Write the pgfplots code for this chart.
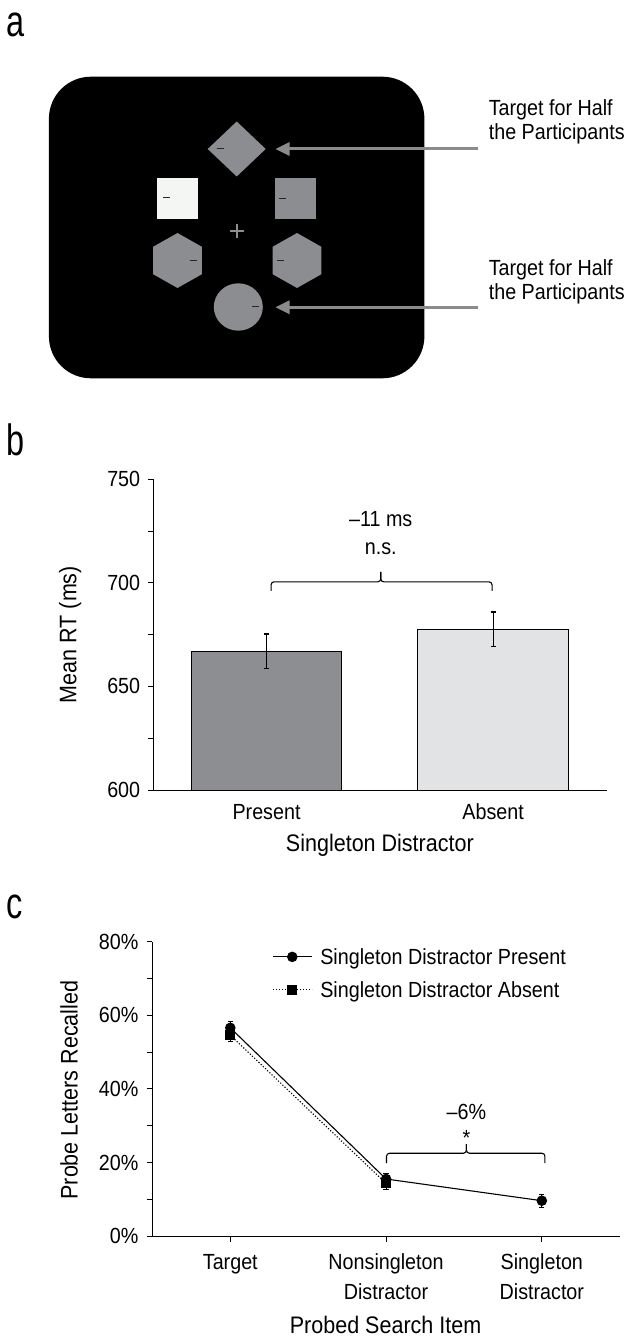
\documentclass[border=0pt]{standalone}
\usepackage{fontspec}
\setmainfont{Liberation Sans}[FakeStretch=0.9]
\newfontfamily\panelfont{Liberation Sans}[FakeStretch=0.74]
\usepackage{pgfplots}
\pgfplotsset{compat=1.18}
\definecolor{bargray}{HTML}{8D8E91}
\definecolor{barlight}{HTML}{E2E3E5}
\definecolor{shapegray}{HTML}{8C8D90}
\definecolor{shapewhite}{HTML}{F4F6F4}
\definecolor{arrowgray}{HTML}{8B8B8D}
\newcommand{\tickfont}{\fontsize{22}{26}\selectfont}
\newcommand{\labfont}{\fontsize{24}{28}\selectfont}
\begin{document}
\begin{tikzpicture}[x=1bp,y=1bp]
\useasboundingbox (0,0) rectangle (629,-1340);
% ---------------- panel a ----------------
\node[anchor=base west, inner sep=0, font=\panelfont\fontsize{44}{44}\selectfont] at (6,-37) {a};
\fill[black, rounded corners=42bp] (48.9,-76.7) rectangle (424.4,-378.3);
% diamond
\fill[shapegray] (207.7,-149) -- (236.7,-121.5) -- (265.7,-149) -- (236.7,-176.5) -- cycle;
% squares
\fill[shapewhite] (157.2,-178) rectangle (198.2,-219);
\fill[shapegray] (274.8,-178) rectangle (315.7,-219);
% hexagons
\fill[shapegray] (177.5,-233) -- (153.2,-246.75) -- (153.2,-274.25) -- (177.5,-288) -- (201.8,-274.25) -- (201.8,-246.75) -- cycle;
\fill[shapegray] (297,-233) -- (272.7,-246.75) -- (272.7,-274.25) -- (297,-288) -- (321.3,-274.25) -- (321.3,-246.75) -- cycle;
% circle
\fill[shapegray] (238.3,-307) ellipse [x radius=24.5, y radius=23.7];
% fixation cross
\draw[shapegray, line width=1.2bp] (230,-231) -- (244,-231) (237,-224) -- (237,-238);
% little dashes
\begin{scope}[line width=1bp, black!85]
\draw (216.6,-149) -- (223.8,-149);
\draw (162.9,-197.3) -- (170.1,-197.3);
\draw (278.8,-199) -- (286,-199);
\draw (189.7,-260.3) -- (196.9,-260.3);
\draw (277.2,-260.3) -- (284.4,-260.3);
\draw (251.5,-306.3) -- (258.7,-306.3);
\end{scope}
% arrows
\draw[arrowgray, line width=3bp] (478,-149) -- (288.6,-149);
\fill[arrowgray] (275.6,-149) -- (289.6,-142) -- (289.6,-156) -- cycle;
\draw[arrowgray, line width=3bp] (478,-307.3) -- (288.6,-307.3);
\fill[arrowgray] (275.6,-307.3) -- (289.6,-300.3) -- (289.6,-314.3) -- cycle;
\node[anchor=base west, inner sep=0, align=left, font=\fontsize{22}{25}\selectfont] at (488.6,-140) {Target for Half\\the Participants};
\node[anchor=base west, inner sep=0, align=left, font=\fontsize{22}{25}\selectfont] at (488.6,-300) {Target for Half\\the Participants};
% ---------------- panel b ----------------
\node[anchor=base west, inner sep=0, font=\panelfont\fontsize{44}{44}\selectfont] at (6,-455) {b};
\begin{axis}[
  at={(153.2bp,-790bp)}, anchor=south west,
  scale only axis, width=453.3bp, height=310.7bp,
  xmin=-0.5, xmax=1.5, ymin=600, ymax=750,
  axis x line=bottom, axis y line=left,
  axis line style={-, line width=1bp, black},
  xtick={0,1}, xticklabels={Present,Absent},
  x tick style={draw=none},
  xticklabel style={yshift=-5bp},
  yticklabel style={xshift=-4bp},
  ytick={600,650,700,750}, minor y tick num=1,
  tick align=outside, major tick length=5.5bp, minor tick length=5.5bp,
  y tick style={line width=1bp, black},
  tick label style={font=\tickfont},
  /pgf/number format/assume math mode=true,
  xlabel={Singleton Distractor}, ylabel={Mean RT (ms)},
  label style={font=\labfont},
  xlabel style={at={(axis description cs:0.5,-0.177)}, anchor=center},
  ylabel style={at={(axis description cs:-0.1831,0.5)}, anchor=center},
]
\addplot[ybar, bar width=0.664, bar shift=0pt, fill=bargray, draw=black, line width=1bp,
  error bars/.cd, y dir=both, y explicit,
  error bar style={line width=1.2bp, black},
  error mark options={rotate=90, mark size=2.6bp, line width=1.2bp, black}]
  coordinates {(0,667) +- (0,8.3)};
\addplot[ybar, bar width=0.664, bar shift=0pt, fill=barlight, draw=black, line width=1bp,
  error bars/.cd, y dir=both, y explicit,
  error bar style={line width=1.2bp, black},
  error mark options={rotate=90, mark size=2.6bp, line width=1.2bp, black}]
  coordinates {(1,677.5) +- (0,8.4)};
\draw[line width=1.1bp, rounded corners=3bp] (axis cs:0.02,696.1) -- (axis cs:0.02,700.5) -- (axis cs:0.504,700.5) -- (axis cs:0.504,705.3);
\draw[line width=1.1bp, rounded corners=3bp] (axis cs:0.995,696.1) -- (axis cs:0.995,700.5) -- (axis cs:0.504,700.5) -- (axis cs:0.504,705.3);
\node[font=\tickfont, inner sep=0] at (axis cs:0.504,730.7) {–11 ms};
\node[font=\tickfont, inner sep=0] at (axis cs:0.504,716.7) {n.s.};
\end{axis}
% ---------------- panel c ----------------
\node[anchor=base west, inner sep=0, font=\panelfont\fontsize{44}{44}\selectfont] at (6,-918) {c};
\begin{axis}[
  at={(152.4bp,-1236bp)}, anchor=south west,
  scale only axis, width=467.3bp, height=294.3bp,
  xmin=-0.5, xmax=2.5, ymin=0, ymax=80,
  axis x line=bottom, axis y line=left,
  axis line style={-, line width=1bp, black},
  xtick={0,1,2},
  xticklabels={Target,{Nonsingleton\\Distractor},{Singleton\\Distractor}},
  xticklabel style={align=center, font=\fontsize{22}{30}\selectfont, yshift=-9bp},
  yticklabel style={xshift=-5bp},
  ytick={0,20,40,60,80}, minor y tick num=1,
  yticklabel={\pgfmathprintnumber{\tick}\%},
  tick align=outside, major tick length=5.5bp, minor tick length=5.5bp,
  tick style={line width=1bp, black},
  tick label style={font=\tickfont},
  /pgf/number format/assume math mode=true,
  xlabel={Probed Search Item}, ylabel={Probe Letters Recalled},
  label style={font=\labfont},
  xlabel style={at={(axis description cs:0.499,-0.3024)}, anchor=center},
  ylabel style={at={(axis description cs:-0.1785,0.496)}, anchor=center},
  legend style={at={(axis description cs:0.256,0.976)}, anchor=north west,
    draw=none, fill=none, inner sep=0pt, row sep=17bp, column sep=8bp,
    font=\tickfont, nodes={inner sep=0pt, text height=15.8bp, text depth=0pt}},
  legend cell align=left,
  legend image code/.code={\draw[mark repeat=2, mark phase=2, #1] plot coordinates {(0bp,0bp) (19.5bp,0bp) (39bp,0bp)};},
]
\addplot[black, line width=1.1bp, mark=*, mark size=4.7bp,
  error bars/.cd, y dir=both, y explicit,
  error bar style={solid, line width=1.1bp, black},
  error mark options={solid, rotate=90, mark size=2.6bp, line width=1.1bp, black}]
  coordinates {(0,56.6) +- (0,1.6) (1,15.5) +- (0,1.5) (2,9.6) +- (0,1.8)};
\addlegendentry{Singleton Distractor Present}
\addplot[black, line width=1.1bp, dash pattern=on 1.2bp off 1.8bp, mark=square*, mark size=4.5bp, mark options={solid},
  error bars/.cd, y dir=both, y explicit,
  error bar style={solid, line width=1.1bp, black},
  error mark options={solid, rotate=90, mark size=2.6bp, line width=1.1bp, black}]
  coordinates {(0,54.6) +- (0,1.8) (1,14.3) +- (0,1.6)};
\addlegendentry{Singleton Distractor Absent}
\draw[line width=1.1bp, rounded corners=3bp] (axis cs:1.003,19.8) -- (axis cs:1.003,22.5) -- (axis cs:1.516,22.5) -- (axis cs:1.516,25.0);
\draw[line width=1.1bp, rounded corners=3bp] (axis cs:2.02,19.8) -- (axis cs:2.02,22.5) -- (axis cs:1.516,22.5) -- (axis cs:1.516,25.0);
\node[font=\tickfont, inner sep=0] at (axis cs:1.516,33.8) {–6\%};
\node[font=\tickfont, inner sep=0, anchor=north] at (axis cs:1.516,28.8) {*};
\end{axis}
\end{tikzpicture}
\end{document}
